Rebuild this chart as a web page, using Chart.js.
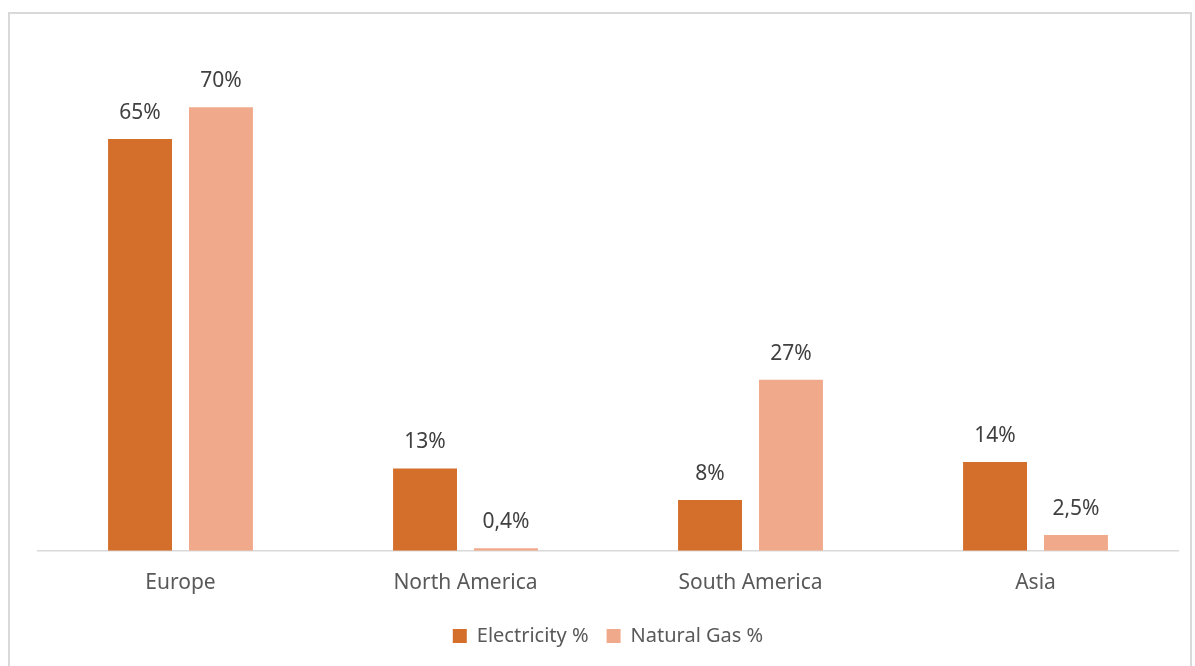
<!DOCTYPE html>
<html>
<head>
<meta charset="utf-8">
<script src="https://cdn.jsdelivr.net/npm/chart.js@4.4.0/dist/chart.umd.min.js"></script>
<style>
    body { margin: 0; background: #fff; }
    #frame { position: absolute; left: 8px; top: 12px; width: 1180px; height: 670px; border: 2px solid #d9d9d9; }
    #wrap { position: absolute; left: 0; top: 0; width: 1195px; height: 666px; }
</style>
</head>
<body>
<div id="frame"></div>
<div id="wrap"><canvas id="myChart" width="1195" height="666"></canvas></div>
<script>
const regions = ["Europe", "North America", "South America", "Asia"];
const electricity = [65, 13, 8, 14];
const naturalGas = [70, 0.4, 27, 2.5];

const fontFamily = "'Noto Sans', sans-serif";
const formatValue = (v) => v.toString().replace(".", ",") + "%";

// draws the value text above every bar
const valueLabels = {
    id: "valueLabels",
    afterDatasetsDraw(chart) {
        const ctx = chart.ctx;
        ctx.save();
        ctx.font = "21px " + fontFamily;
        ctx.fillStyle = "#404040";
        ctx.textAlign = "center";
        ctx.textBaseline = "middle";
        chart.data.datasets.forEach((ds, i) => {
            chart.getDatasetMeta(i).data.forEach((bar, j) => {
                ctx.fillText(formatValue(ds.data[j]), bar.x, bar.y - 26);
            });
        });
        ctx.restore();
    }
};

const ctx = document.getElementById("myChart").getContext("2d");
const myChart = new Chart(ctx, {
    type: "bar",
    data: {
        labels: regions,
        datasets: [{
            label: "Electricity %",
            data: electricity,
            backgroundColor: "#d46f2b",
            categoryPercentage: 0.568,
            barPercentage: 0.79
        }, {
            label: "Natural Gas %",
            data: naturalGas,
            backgroundColor: "#f0a98a",
            categoryPercentage: 0.568,
            barPercentage: 0.79
        }]
    },
    options: {
        responsive: false,
        animation: false,
        layout: { padding: { left: 38, right: 17, top: 44, bottom: 10 } },
        plugins: {
            tooltip: { enabled: false },
            legend: {
                position: "bottom",
                labels: {
                    boxWidth: 14,
                    boxHeight: 14,
                    padding: 18,
                    color: "#595959",
                    font: { family: fontFamily, size: 20 }
                }
            }
        },
        scales: {
            x: {
                grid: { display: false },
                border: { color: "#d9d9d9", width: 1.5 },
                ticks: {
                    color: "#595959",
                    padding: 12,
                    font: { family: fontFamily, size: 21 }
                }
            },
            y: {
                display: false,
                min: 0,
                max: 80
            }
        }
    },
    plugins: [valueLabels]
});
</script>
</body>
</html>
